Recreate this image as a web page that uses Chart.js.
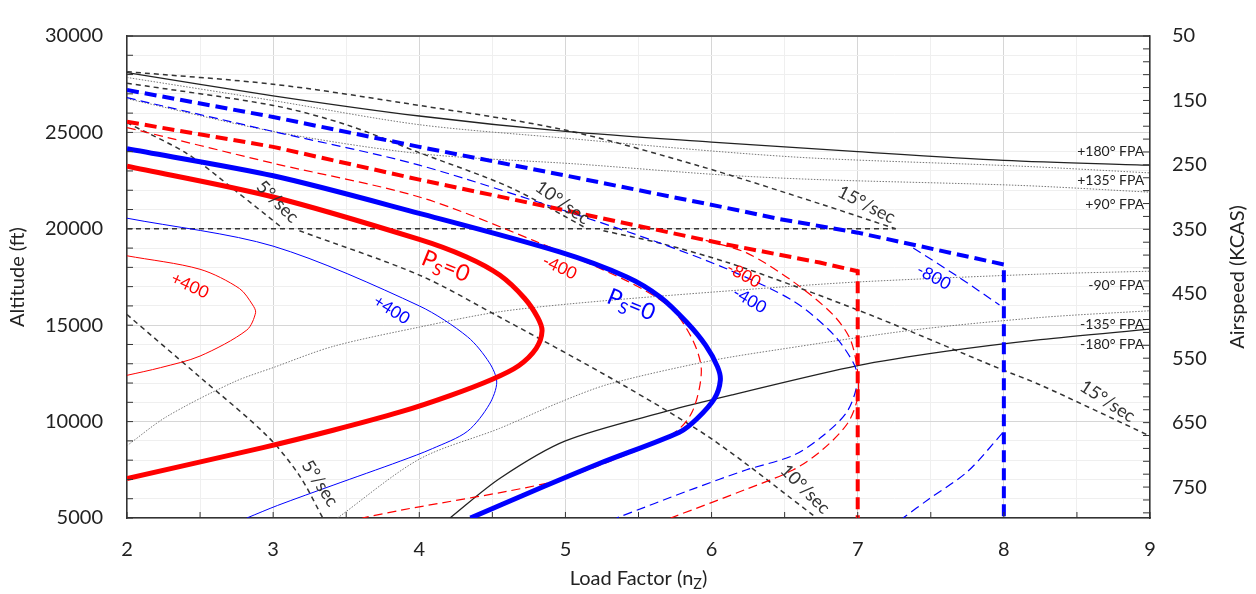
<!DOCTYPE html>
<html lang="en">
<head>
<meta charset="UTF-8">
<title>Load Factor vs Altitude</title>
<script src="https://cdn.jsdelivr.net/npm/chart.js"></script>
<style>
    html, body { margin: 0; padding: 0; background: #fff; }
    #wrap { width: 1256px; height: 594px; }
</style>
</head>
<body>
<div id="wrap"><canvas id="chart"></canvas></div>
<script>
// every curve is [load factor n, altitude ft]

// flight path angle lines
const fpaPlus180 = [[2,28100],[3,26900],[4,25850],[5,25050],[6,24500],[7,24000],[8,23550],[9,23300]];
const fpaPlus135 = [[2,27850],[3,26650],[4,25400],[5,24700],[6.06,24000],[6.74,23650],[8.11,23250],[9,22900]];
const fpaPlus90 = [[2,26750],[3,25050],[4,23900],[5.1,23350],[6.06,22800],[6.74,22550],[8.11,22250],[9,21900]];
const fpaMinus90 = [[2,8750],[2.27,10250],[2.73,12050],[3,12800],[3.41,13900],[4,14900],[4.55,15700],[5.24,16250],[6.33,16900],[7.02,17250],[8.25,17650],[9,17800]];
const fpaMinus135 = [[3.44,5000],[4,8050],[4.55,9650],[4.96,11000],[5.3,11950],[5.99,13150],[6.47,13750],[7.38,14750],[8.25,15400],[9,15750]];
const fpaMinus180 = [[4.21,5000],[4.55,7050],[5,9000],[5.7,10550],[6.15,11400],[7,12900],[7.61,13650],[8.25,14250],[9,14800]];

// turn rate lines
const turn15Upper = [[2,28150],[3,27500],[3.87,26550],[4.98,25150],[5.92,23250],[6.74,21300],[7.26,20000]];
const turn10Upper = [[2,27550],[3,26400],[3.5,25400],[4,23950],[4.62,22150],[5.15,20000]];
const turn5Upper = [[2,25500],[2.41,23900],[2.73,22050],[3.07,20000]];
const turn5Lower = [[2,15550],[2.5,12300],[2.96,9250],[3.18,7200],[3.34,5000]];
const turn10Lower = [[3.18,19900],[4,17600],[4.53,15500],[5.37,12000],[6.01,9050],[6.72,5000]];
const turn15Lower = [[5.26,19900],[5.65,19250],[6.11,18250],[6.56,17050],[7.13,15400],[7.97,12750],[8.25,11900],[9,9250]];
const altitudeBreak = [[2,20000],[7.26,20000]];

// envelopes (structural limit)
const blueEnvelope = [[2,27200],[3,25800],[4,24250],[5.01,22750],[6.06,21150],[6.47,20500],[7,19800],[8,18150],[8,5000]];
const redEnvelope = [[2,25550],[3,24250],[4,22550],[5,20950],[6.06,19250],[6.74,18250],[7,17800],[7,5000]];

// specific excess power contours
const bluePs0 = [[2,24150],[3,22750],[4,20800],[4.96,18800],[5.42,17500],[5.65,16450],[5.83,15150],[5.96,13950],[6.04,12850],[6.06,12150],[6.02,11200],[5.9,10150],[5.78,9450],[5.24,7850],[4.78,6400],[4.35,5000]];
const redPs0 = [[2,23250],[3,21650],[4,19450],[4.32,18550],[4.55,17600],[4.72,16400],[4.81,15400],[4.84,14700],[4.8,13800],[4.68,12900],[4.5,12200],[4.21,11350],[3.87,10500],[3.41,9550],[2.93,8650],[2,7050]];
const redPlus400 = [[2,18600],[2.5,17900],[2.77,16900],[2.86,16050],[2.88,15650],[2.82,14750],[2.5,13400],[2.23,12800],[2,12400]];
const bluePlus400 = [[2,20550],[3,19100],[4,16000],[4.33,14400],[4.48,13050],[4.53,12050],[4.48,10900],[4.33,9500],[4.09,8600],[3.87,7950],[3.41,6700],[3.03,5650],[2.82,5000]];
const redMinus400 = [[2,25250],[3,23400],[4,21650],[4.78,19400],[5.42,17300],[5.72,15900],[5.87,14250],[5.93,12650],[5.87,10550],[5.74,9400],[5.24,7750],[4.87,6800],[3.87,5400],[3.61,5000]];
const redMinus800 = [[5.96,19400],[6.24,18750],[6.56,17250],[6.83,15550],[6.95,14250],[7,12550],[7,11250],[6.93,9900],[6.76,8550],[6.56,7500],[6.24,6500],[5.72,5000]];
const blueMinus400 = [[2,26800],[3,25050],[4,23300],[5.15,20550],[5.65,19250],[6.11,17900],[6.56,16250],[6.83,14550],[6.97,13050],[7,12150],[6.93,10550],[6.76,9250],[6.56,8250],[6.24,7500],[5.87,6500],[5.35,5000]];
const blueMinus800Upper = [[7.38,19000],[7.68,17550],[7.97,16050]];
const blueMinus800Lower = [[7.99,9400],[7.75,7400],[7.49,6000],[7.31,5000]];

// axis ticks
const loadFactorTicks = [2, 2.5, 3, 3.5, 4, 4.5, 5, 5.5, 6, 6.5, 7, 7.5, 8, 8.5, 9];
const altitudeTicks = [5000,6000,7000,8000,9000,10000,11000,12000,13000,14000,15000,16000,17000,18000,19000,20000,21000,22000,23000,24000,25000,26000,27000,28000,29000,30000];
const airspeedTicks = [50,70,90,110,130,150,170,190,210,230,250,270,290,310,330,350,370,390,410,430,450,470,490,510,530,550,570,590,610,630,650,670,690,710,730,750,770,790];

// in-plot labels: text, n, altitude, angle (deg)
const contourLabels = [
    ['+400', 2.43, 17050, 25, 'red'],
    ['+400', 3.81, 15800, 32, 'blue'],
    ['-400', 4.96, 18000, 25, 'red'],
    ['-800', 6.22, 17600, 28, 'red'],
    ['-400', 6.26, 16300, 30, 'blue'],
    ['-800', 7.52, 17500, 28, 'blue']
];
const psZeroLabels = [
    [4.18, 18050, 22, 'red'],
    [5.45, 16050, 22, 'blue']
];
const turnLabels = [
    ['5°/sec', 3.03, 21400, 45],
    ['10°/sec', 4.98, 21350, 35],
    ['15°/sec', 7.06, 21250, 27],
    ['5°/sec', 3.32, 6800, 57],
    ['10°/sec', 6.64, 6500, 45],
    ['15°/sec', 8.71, 11050, 33]
];
const fpaLabels = [
    ['+180° FPA', 24000],
    ['+135° FPA', 22500],
    ['+90° FPA', 21250],
    ['-90° FPA', 17050],
    ['-135° FPA', 15050],
    ['-180° FPA', 14000]
];

const FONT = 'Lato, "DejaVu Sans", sans-serif';

function line(points, color, width, dash, tension) {
    return {
        data: points.map(p => ({ x: p[0], y: p[1] })),
        borderColor: color,
        borderWidth: width,
        borderDash: dash,
        showLine: true,
        pointRadius: 0,
        tension: tension,
        fill: false,
        yAxisID: 'y'
    };
}

// first dataset is drawn on top
const datasets = [
    line(bluePs0, '#0000ff', 5, [], 0.3),
    line(redPs0, '#ff0000', 5, [], 0.3),
    line(blueEnvelope, '#0000ff', 4, [12, 6], 0),
    line(redEnvelope, '#ff0000', 4, [12, 6], 0),
    line(bluePlus400, '#0000ff', 1, [], 0.3),
    line(redPlus400, '#ff0000', 1, [], 0.3),
    line(blueMinus400, '#0000ff', 1.2, [9, 5], 0.3),
    line(redMinus400, '#ff0000', 1.2, [9, 5], 0.3),
    line(redMinus800, '#ff0000', 1.2, [9, 5], 0.3),
    line(blueMinus800Upper, '#0000ff', 1.2, [9, 5], 0.3),
    line(blueMinus800Lower, '#0000ff', 1.2, [9, 5], 0.3),
    line(fpaPlus180, '#222', 1.3, [], 0.3),
    line(fpaMinus180, '#222', 1.3, [], 0.3),
    line(turn15Upper, '#333', 1.5, [5, 4], 0.3),
    line(turn10Upper, '#333', 1.5, [5, 4], 0.3),
    line(turn5Upper, '#333', 1.5, [5, 4], 0.3),
    line(turn5Lower, '#333', 1.5, [5, 4], 0.3),
    line(turn10Lower, '#333', 1.5, [5, 4], 0.3),
    line(turn15Lower, '#333', 1.5, [5, 4], 0.3),
    line(altitudeBreak, '#333', 1.5, [5, 4], 0),
    line(fpaPlus135, '#777', 1, [1.5, 1.5], 0.3),
    line(fpaPlus90, '#777', 1, [1.5, 1.5], 0.3),
    line(fpaMinus90, '#777', 1, [1.5, 1.5], 0.3),
    line(fpaMinus135, '#777', 1, [1.5, 1.5], 0.3)
];

function drawRich(ctx, parts, size) {
    const widths = parts.map(p => {
        ctx.font = (p.sub ? size * 0.72 : size) + 'px ' + FONT;
        return ctx.measureText(p.t).width;
    });
    let cx = -widths.reduce((s, w) => s + w, 0) / 2;
    ctx.textAlign = 'left';
    parts.forEach((p, i) => {
        ctx.font = (p.sub ? size * 0.72 : size) + 'px ' + FONT;
        ctx.fillText(p.t, cx, p.sub ? size * 0.28 : 0);
        cx += widths[i];
    });
}

const decor = {
    id: 'decor',
    afterDraw(chart) {
        const { ctx, chartArea: a, scales: { x, y, y2 } } = chart;
        ctx.save();

        // frame top
        ctx.strokeStyle = '#333';
        ctx.lineWidth = 1.5;
        ctx.beginPath();
        ctx.moveTo(a.left, a.top);
        ctx.lineTo(a.right, a.top);
        ctx.stroke();

        // inward tick marks
        ctx.lineWidth = 1;
        ctx.beginPath();
        x.ticks.forEach(t => {
            const px = x.getPixelForValue(t.value);
            ctx.moveTo(px, a.bottom);
            ctx.lineTo(px, a.bottom - 6);
        });
        y.ticks.forEach(t => {
            const py = y.getPixelForValue(t.value);
            ctx.moveTo(a.left, py);
            ctx.lineTo(a.left + 6, py);
        });
        y2.ticks.forEach(t => {
            const py = y2.getPixelForValue(t.value);
            ctx.moveTo(a.right, py);
            ctx.lineTo(a.right - 7, py);
        });
        ctx.stroke();

        // axis titles
        ctx.fillStyle = '#222';
        ctx.textBaseline = 'middle';
        ctx.textAlign = 'center';
        ctx.font = '20px ' + FONT;
        const midY = (a.top + a.bottom) / 2;
        ctx.save();
        ctx.translate(18, midY);
        ctx.rotate(-Math.PI / 2);
        ctx.fillText('Altitude (ft)', 0, 0);
        ctx.restore();
        ctx.save();
        ctx.translate(1238, midY);
        ctx.rotate(-Math.PI / 2);
        ctx.fillText('Airspeed (KCAS)', 0, 0);
        ctx.restore();
        ctx.save();
        ctx.translate((a.left + a.right) / 2, 579);
        drawRich(ctx, [{ t: 'Load Factor (n' }, { t: 'Z', sub: true }, { t: ')' }], 20);
        ctx.restore();

        // contour labels
        contourLabels.forEach(([t, n, alt, ang, col]) => {
            ctx.save();
            ctx.translate(x.getPixelForValue(n), y.getPixelForValue(alt));
            ctx.rotate(ang * Math.PI / 180);
            ctx.fillStyle = col;
            ctx.textAlign = 'center';
            ctx.font = '17px ' + FONT;
            ctx.fillText(t, 0, 0);
            ctx.restore();
        });
        psZeroLabels.forEach(([n, alt, ang, col]) => {
            ctx.save();
            ctx.translate(x.getPixelForValue(n), y.getPixelForValue(alt));
            ctx.rotate(ang * Math.PI / 180);
            ctx.fillStyle = col;
            drawRich(ctx, [{ t: 'P' }, { t: 'S', sub: true }, { t: '=0' }], 23);
            ctx.restore();
        });

        // turn rate labels
        turnLabels.forEach(([t, n, alt, ang]) => {
            ctx.save();
            ctx.translate(x.getPixelForValue(n), y.getPixelForValue(alt));
            ctx.rotate(ang * Math.PI / 180);
            ctx.fillStyle = '#333';
            ctx.textAlign = 'center';
            ctx.font = '18px ' + FONT;
            ctx.fillText(t, 0, 0);
            ctx.restore();
        });

        // flight path angle labels
        ctx.fillStyle = '#222';
        ctx.textAlign = 'right';
        ctx.font = '14px ' + FONT;
        fpaLabels.forEach(([t, alt]) => {
            ctx.fillText(t, x.getPixelForValue(8.96), y.getPixelForValue(alt));
        });

        ctx.restore();
    }
};

new Chart(document.getElementById('chart'), {
    type: 'scatter',
    data: { datasets: datasets },
    options: {
        responsive: true,
        maintainAspectRatio: false,
        devicePixelRatio: 1,
        animation: false,
        events: [],
        layout: { padding: { top: 18, left: 0, right: 0, bottom: 0 } },
        plugins: { legend: { display: false }, tooltip: { enabled: false } },
        scales: {
            x: {
                type: 'linear',
                min: 2,
                max: 9,
                afterBuildTicks: s => { s.ticks = loadFactorTicks.map(v => ({ value: v })); },
                afterFit: s => { s.height = 76; },
                ticks: {
                    autoSkip: false,
                    maxRotation: 0,
                    padding: 20,
                    color: '#222',
                    font: { family: FONT, size: 20 },
                    callback: v => Number.isInteger(v) ? String(v) : ''
                },
                grid: {
                    drawTicks: false,
                    color: c => (c.tick && Number.isInteger(c.tick.value)) ? '#d6d6d6' : '#efefef'
                },
                border: { color: '#333', width: 1.5 }
            },
            y: {
                type: 'linear',
                position: 'left',
                min: 5000,
                max: 30000,
                afterBuildTicks: s => { s.ticks = altitudeTicks.map(v => ({ value: v })); },
                afterFit: s => { s.width = 127; },
                ticks: {
                    autoSkip: false,
                    padding: 24,
                    color: '#222',
                    font: { family: FONT, size: 20 },
                    callback: v => v % 5000 === 0 ? String(v) : ''
                },
                grid: {
                    drawTicks: false,
                    color: c => (c.tick && c.tick.value % 5000 === 0) ? '#d6d6d6' : '#efefef'
                },
                border: { color: '#333', width: 1.5 }
            },
            y2: {
                type: 'linear',
                position: 'right',
                reverse: true,
                min: 50,
                max: 798,
                afterBuildTicks: s => { s.ticks = airspeedTicks.map(v => ({ value: v })); },
                afterFit: s => { s.width = 106; },
                ticks: {
                    autoSkip: false,
                    padding: 22,
                    color: '#222',
                    font: { family: FONT, size: 20 },
                    callback: v => (v - 50) % 100 === 0 ? String(v) : ''
                },
                grid: { display: false, drawTicks: false },
                border: { color: '#333', width: 1.5 }
            }
        }
    },
    plugins: [decor]
});
</script>
</body>
</html>
